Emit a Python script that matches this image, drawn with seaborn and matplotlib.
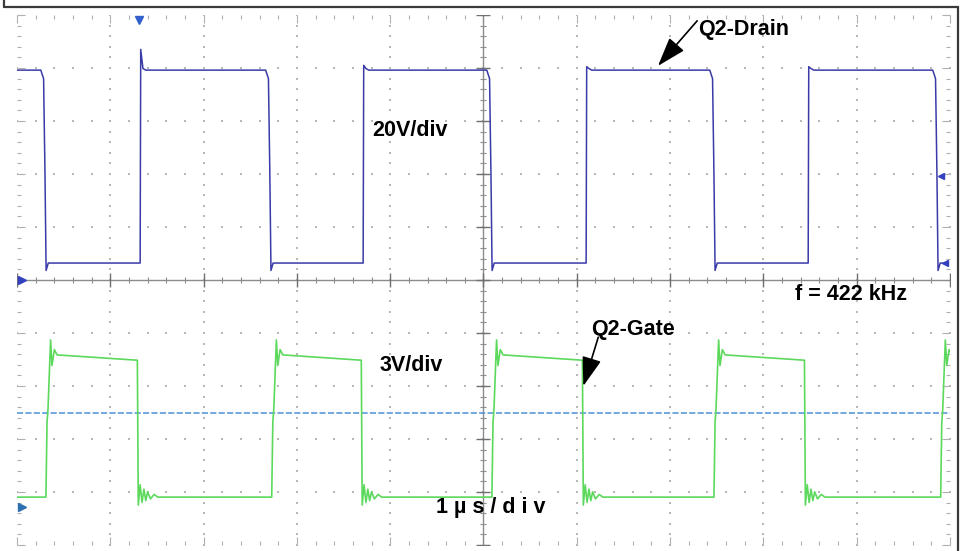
import numpy as np
import pandas as pd
import matplotlib.pyplot as plt
import seaborn as sns
from matplotlib.lines import Line2D

# scope settings (1 us/div, 20 V/div drain, 3 V/div gate)
TIME_PER_DIV_US = 1.0
DRAIN_V_PER_DIV = 20.0
GATE_V_PER_DIV = 3.0
DRAIN_GROUND_DIV = 0.0
GATE_GROUND_DIV = -4.28
TRIGGER_POS_US = -3.69
TRIGGER_LEVEL_DIV = 1.96
GATE_CURSOR_DIV = -2.51

# Q2 drain: edges alternate fall / rise (us)
drain_edges_us = [-4.70, -3.68, -2.29, -1.29, 0.08, 1.10, 2.47, 3.48, 4.86]
drain_rise_peak_v = [87.0, 81.0, 80.5, 80.5]
drain_high_v = 79.2
drain_low_v = 6.4
drain_t_start, drain_t_end = -5.0, 4.93
drain_fall_dt = [-0.045, -0.015, 0.0, 0.012, 0.035]
drain_fall_v = [79.2, 76.0, 40.0, 3.6, 6.4]
drain_rise_dt = [0.0, 0.006, 0.03, 0.06]

# Q2 gate: edges alternate rise / fall (us)
gate_edges_us = [-4.69, -3.71, -2.27, -1.31, 0.09, 1.06, 2.47, 3.44, 4.90]
gate_low_v = 0.55
gate_t_start = -5.0
gate_rise_dt = [0.0, 0.012, 0.022, 0.05, 0.065, 0.09, 0.12]
gate_rise_v = [0.55, 4.8, 5.5, 9.45, 8.0, 8.9, 8.6]
gate_fall_dt = [0.0, 0.01, 0.03, 0.05, 0.07, 0.09, 0.11, 0.14, 0.18, 0.22]
gate_fall_v = [8.3, 0.1, 1.25, 0.25, 1.0, 0.35, 0.85, 0.45, 0.7, 0.55]


def drain_trace():
    t, v = [drain_t_start], [drain_high_v]
    for i, te in enumerate(drain_edges_us):
        if i % 2 == 0:
            t += [te + d for d in drain_fall_dt]
            v += drain_fall_v
        else:
            pk = drain_rise_peak_v[i // 2]
            t += [te + d for d in drain_rise_dt]
            v += [drain_low_v, pk, drain_high_v + 0.6, drain_high_v]
    t.append(drain_t_end)
    v.append(drain_low_v)
    y = np.array(v) / DRAIN_V_PER_DIV + DRAIN_GROUND_DIV
    return pd.DataFrame({"t": np.array(t) / TIME_PER_DIV_US, "div": y})


def gate_trace():
    t, v = [gate_t_start], [gate_low_v]
    for i, te in enumerate(gate_edges_us):
        if i % 2 == 0:
            t += [te + d for d in gate_rise_dt]
            v += gate_rise_v
        else:
            t += [te + d for d in gate_fall_dt]
            v += gate_fall_v
    y = np.array(v) / GATE_V_PER_DIV + GATE_GROUND_DIV
    return pd.DataFrame({"t": np.array(t) / TIME_PER_DIV_US, "div": y})


sns.set_theme(style="white")
plt.rcParams["font.family"] = ["Liberation Sans", "DejaVu Sans"]

W, H = 962, 551
fig = plt.figure(figsize=(W / 100, H / 100), dpi=100)
fig.patch.set_facecolor("white")
ax = fig.add_axes([17 / W, 1 - 545 / H, 933 / W, 530 / H])
ax.set_xlim(-5, 5)
ax.set_ylim(-5, 5)
for s in ax.spines.values():
    s.set_visible(False)

# graticule: dotted division lines
fine = np.arange(-5, 5.001, 0.2)
grid_col = "#b8b8b8"
for k in range(-4, 5):
    if k == 0:
        continue
    ax.scatter(np.full_like(fine, k), fine, s=1.2, marker="s", color=grid_col, lw=0, zorder=1)
    ax.scatter(fine, np.full_like(fine, k), s=1.2, marker="s", color=grid_col, lw=0, zorder=1)

# centre cross with ticks
ax.axhline(0, color="#8c8c8c", lw=1.0, zorder=1)
ax.axvline(0, color="#8c8c8c", lw=1.0, zorder=1)
ax.plot(fine, np.zeros_like(fine), ls="none", marker="|", ms=4, mew=0.8, color="#8c8c8c", zorder=1)
ax.plot(np.zeros_like(fine), fine, ls="none", marker="_", ms=5, mew=0.8, color="#8c8c8c", zorder=1)
major = np.arange(-5, 6, 1)
ax.plot(major, np.zeros_like(major), ls="none", marker="|", ms=10, mew=1.0, color="#707070", zorder=1)
ax.plot(np.zeros_like(major), major, ls="none", marker="_", ms=10, mew=1.0, color="#707070", zorder=1)

# edge ticks
ax.set_xticks(major)
ax.set_yticks(major)
ax.set_xticks(fine, minor=True)
ax.set_yticks(fine, minor=True)
ax.tick_params(which="both", direction="in", top=True, right=True, bottom=True, left=True,
               labelbottom=False, labelleft=False, color="#b0b0b0", width=0.8)
ax.tick_params(which="major", length=6)
ax.tick_params(which="minor", length=3)

# gate cursor line
ax.axhline(GATE_CURSOR_DIV, color="#4d8fd6", lw=1.1, ls=(0, (4, 1.5)), zorder=2)

drain = drain_trace()
gate = gate_trace()
sns.lineplot(data=gate, x="t", y="div", sort=False, estimator=None, color="#5cd95c", lw=1.2, ax=ax, zorder=3)
sns.lineplot(data=drain, x="t", y="div", sort=False, estimator=None, color="#3a3aa8", lw=1.1, ax=ax, zorder=4)
ax.set_xlabel("")
ax.set_ylabel("")

# channel / trigger markers
ax.plot([TRIGGER_POS_US], [4.9], marker="v", ms=6, color="#3360cc", clip_on=False, zorder=5)
ax.plot([-4.95], [DRAIN_GROUND_DIV], marker=">", ms=6, color="#3340c0", clip_on=False, zorder=5)
ax.plot([-4.95], [GATE_GROUND_DIV], marker=">", ms=6, color="#2f70b0", clip_on=False, zorder=5)
ax.plot([4.90], [TRIGGER_LEVEL_DIV], marker="<", ms=5, color="#3340c0", clip_on=False, zorder=5)
ax.plot([4.95], [drain_low_v / DRAIN_V_PER_DIV], marker="<", ms=5, color="#3340c0", clip_on=False, zorder=5)

# labels
txt = dict(fontsize=15.5, fontweight="bold", color="black", ha="center", va="center", zorder=6)
ax.text(2.79, 4.72, "Q2-Drain", **txt)
ax.text(-0.79, 2.83, "20V/div", **txt)
ax.text(3.94, -0.28, "f = 422 kHz", **txt)
ax.text(1.60, -0.94, "Q2-Gate", **txt)
ax.text(-0.77, -1.62, "3V/div", **txt)
ax.text(0.08, -4.30, "1 µ s / d i v", **txt)

arrow = dict(arrowstyle="-|>,head_length=0.9,head_width=0.3", mutation_scale=20,
             color="black", lw=1.2, shrinkA=0, shrinkB=0)
ax.annotate("", xy=(1.87, 4.04), xytext=(2.29, 4.89), arrowprops=arrow, zorder=6)
ax.annotate("", xy=(1.07, -2.0), xytext=(1.23, -1.08), arrowprops=arrow, zorder=6)

# screenshot frame
for xs, ys in [([3.5, 3.5], [0, 6.5]), ([3.5, 958.5], [6.5, 6.5]), ([958.5, 958.5], [6.5, 551])]:
    fig.add_artist(Line2D([x / W for x in xs], [1 - y / H for y in ys], color="#3a3a3a", lw=1.6))

fig.savefig("out.png", dpi=100)
